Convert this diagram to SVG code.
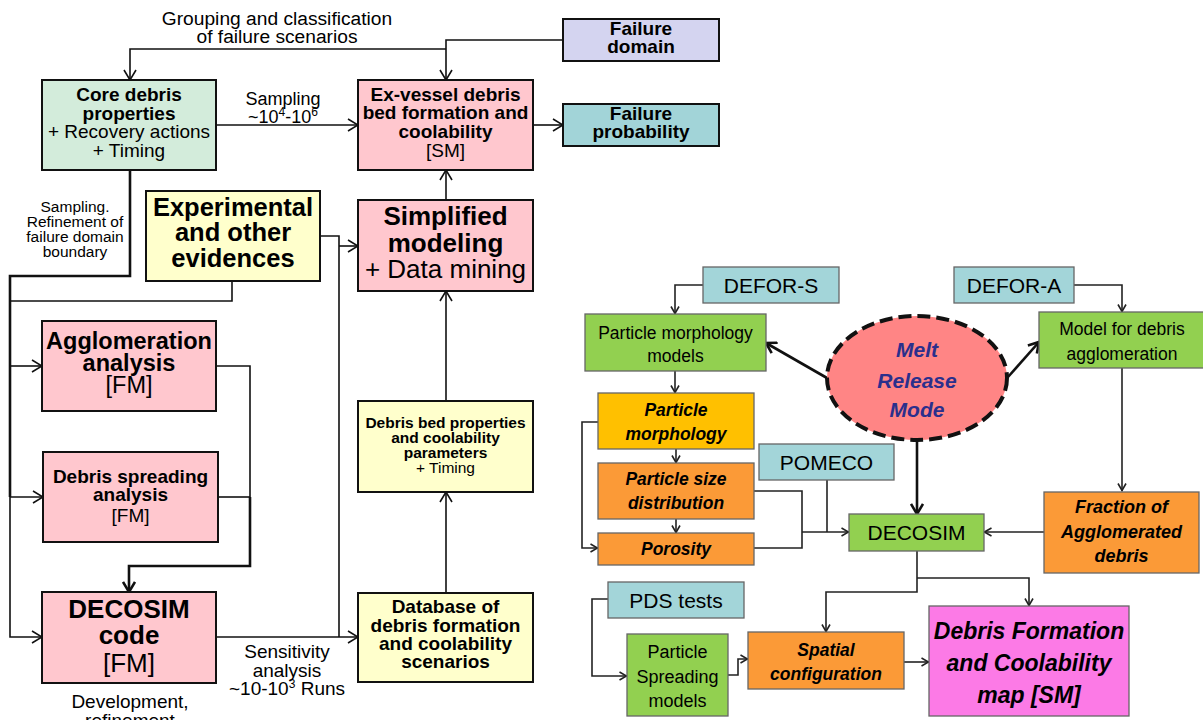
<svg xmlns="http://www.w3.org/2000/svg" width="1203" height="720" viewBox="0 0 1203 720">
  <style>
    text { font-family: "Liberation Sans", Arial, sans-serif; fill: #000; }
    .c { text-anchor: middle; }
    .b { font-weight: bold; }
    .bi { font-weight: bold; font-style: italic; }
    .box { stroke: #111; stroke-width: 2; }
    .rbox { stroke: #666; stroke-width: 1.3; }
    .ln { fill: none; stroke: #111; stroke-width: 1.6; }
    .thk { fill: none; stroke: #111; stroke-width: 2.6; }
    .rl { fill: none; stroke: #222; stroke-width: 1.6; }
    .rthk { fill: none; stroke: #111; stroke-width: 2.6; }
    .pink { fill: #ffc7ce; }
    .yel { fill: #ffffcc; }
    .grn { fill: #92d050; }
    .tea { fill: #a3d5d9; }
    .org { fill: #fb9a37; }
  </style>
  <defs>
    <marker id="av" viewBox="0 0 12 14" refX="11" refY="7" markerWidth="12" markerHeight="14" orient="auto" markerUnits="userSpaceOnUse">
      <path d="M1,1 L11,7 L1,13" fill="none" stroke="#111" stroke-width="1.6"/>
    </marker>
    <marker id="sv" viewBox="0 0 9 10" refX="8.5" refY="5" markerWidth="9" markerHeight="10" orient="auto" markerUnits="userSpaceOnUse">
      <path d="M1,1 L8,5 L1,9" fill="none" stroke="#222" stroke-width="1.6"/>
    </marker>
    <marker id="tv" viewBox="0 0 12 14" refX="11" refY="7" markerWidth="12" markerHeight="14" orient="auto" markerUnits="userSpaceOnUse">
      <path d="M1,1 L11,7 L1,13" fill="none" stroke="#111" stroke-width="2.6"/>
    </marker>
  </defs>

  <rect width="1203" height="720" fill="#fff"/>

  <!-- connectors -->
  <g id="connectors">
    <!-- left flowchart -->
    <path class="ln" d="M446,49 H130 V80" marker-end="url(#av)"/>
    <path class="ln" d="M563,40 H446 V80" marker-end="url(#av)"/>
    <path class="ln" d="M216,125 H358" marker-end="url(#av)"/>
    <path class="ln" d="M533,125 H563" marker-end="url(#av)"/>
    <path class="ln" d="M446,200 V170" marker-end="url(#av)"/>
    <path class="ln" d="M446,401 V291" marker-end="url(#av)"/>
    <path class="ln" d="M446,593 V492" marker-end="url(#av)"/>
    <path class="ln" d="M320,236 H339 V637"/>
    <path class="ln" d="M339,246 H358" marker-end="url(#av)"/>
    <path class="ln" d="M216,637 H358" marker-end="url(#av)"/>
    <path class="thk" d="M130,170 V276 H10 V497"/>
    <path class="ln" d="M232,281 V301 H10"/>
    <path class="ln" d="M10,366 H42" marker-end="url(#av)"/>
    <path class="ln" d="M10,497 H43" marker-end="url(#av)"/>
    <path class="ln" d="M10,497 V637 H42" marker-end="url(#av)"/>
    <path class="ln" d="M216,366 H250 V497"/>
    <path class="ln" d="M218,497 H250"/>
    <path class="thk" d="M250,497 V566 H129 V592" marker-end="url(#tv)"/>

    <!-- right flowchart -->
    <path class="rl" d="M703,285 H675 V314" marker-end="url(#sv)"/>
    <path class="rl" d="M675,371 V393" marker-end="url(#sv)"/>
    <path class="rl" d="M676,449 V463" marker-end="url(#sv)"/>
    <path class="rl" d="M676,519 V533" marker-end="url(#sv)"/>
    <path class="rl" d="M598,422 H582 V548 H598" marker-end="url(#sv)"/>
    <path class="rl" d="M754,491 H802 V548 H754"/>
    <path class="rl" d="M827,480 V532"/>
    <path class="rl" d="M802,532 H849" marker-end="url(#sv)"/>
    <path class="rl" d="M1074,285 H1122 V312" marker-end="url(#sv)"/>
    <path class="rl" d="M1122,368 V491" marker-end="url(#sv)"/>
    <path class="rl" d="M1044,532 H984" marker-end="url(#sv)"/>
    <path class="rthk" d="M917,440 V514" marker-end="url(#tv)"/>
    <path class="rthk" d="M827,378 L766,343" marker-end="url(#tv)"/>
    <path class="rthk" d="M1008,377 L1039,342" marker-end="url(#tv)"/>
    <path class="rl" d="M917,551 V592 H826 V632" marker-end="url(#sv)"/>
    <path class="rl" d="M917,578 H1029 V606" marker-end="url(#sv)"/>
    <path class="rl" d="M608,599 H592 V676 H627" marker-end="url(#sv)"/>
    <path class="rl" d="M728,675 H738 V659 H748" marker-end="url(#sv)"/>
    <path class="rl" d="M904,662 H929" marker-end="url(#sv)"/>
  </g>

  <!-- connector labels -->
  <g id="labels">
    <text class="c" x="277" y="25" font-size="19.2">Grouping and classification</text>
    <text class="c" x="277" y="43" font-size="19.2">of failure scenarios</text>
    <text class="c" x="283" y="105" font-size="18">Sampling</text>
    <text class="c" x="283" y="123" font-size="18">~10<tspan dy="-7" font-size="12">4</tspan><tspan dy="7">-10</tspan><tspan dy="-7" font-size="12">6</tspan></text>
    <text class="c" x="75" y="212" font-size="15.5">Sampling.</text>
    <text class="c" x="75" y="227" font-size="15.5">Refinement of</text>
    <text class="c" x="75" y="242" font-size="15.5">failure domain</text>
    <text class="c" x="75" y="257" font-size="15.5">boundary</text>
    <text class="c" x="287" y="658" font-size="19">Sensitivity</text>
    <text class="c" x="287" y="677" font-size="19">analysis</text>
    <text class="c" x="287" y="695" font-size="19">~10-10<tspan dy="-7" font-size="12">3</tspan><tspan dy="7"> Runs</tspan></text>
    <text class="c" x="130" y="708" font-size="19">Development,</text>
    <text class="c" x="130" y="727" font-size="19">refinement</text>
  </g>

  <!-- left flowchart nodes -->
  <g id="core-debris">
    <rect class="box" x="42" y="80" width="174" height="90" fill="#d3ecdb"/>
    <text class="c b" x="129" y="101" font-size="19">Core debris</text>
    <text class="c b" x="129" y="120" font-size="19">properties</text>
    <text class="c" x="129" y="138" font-size="19">+ Recovery actions</text>
    <text class="c" x="129" y="157" font-size="19">+ Timing</text>
  </g>
  <g id="ex-vessel">
    <rect class="box pink" x="358" y="80" width="175" height="90"/>
    <text class="c b" x="445.5" y="101" font-size="19">Ex-vessel debris</text>
    <text class="c b" x="445.5" y="119" font-size="19">bed formation and</text>
    <text class="c b" x="445.5" y="138" font-size="19">coolability</text>
    <text class="c" x="445.5" y="157" font-size="19">[SM]</text>
  </g>
  <g id="failure-domain">
    <rect class="box" x="563" y="19" width="156" height="42" fill="#d4d4f0"/>
    <text class="c b" x="641" y="35" font-size="19">Failure</text>
    <text class="c b" x="641" y="53" font-size="19">domain</text>
  </g>
  <g id="failure-probability">
    <rect class="box" x="563" y="104" width="156" height="42" fill="#a2d4d8"/>
    <text class="c b" x="641" y="120" font-size="19">Failure</text>
    <text class="c b" x="641" y="138" font-size="19">probability</text>
  </g>
  <g id="experimental">
    <rect class="box yel" x="146" y="191" width="174" height="90"/>
    <text class="c b" x="233" y="216" font-size="25.5">Experimental</text>
    <text class="c b" x="233" y="241" font-size="25.5">and other</text>
    <text class="c b" x="233" y="267" font-size="25.5">evidences</text>
  </g>
  <g id="simplified-modeling">
    <rect class="box pink" x="358" y="200" width="175" height="91"/>
    <text class="c b" x="445.5" y="225" font-size="26">Simplified</text>
    <text class="c b" x="445.5" y="252" font-size="26">modeling</text>
    <text class="c" x="445.5" y="278" font-size="26">+ Data mining</text>
  </g>
  <g id="agglomeration">
    <rect class="box pink" x="42" y="321" width="174" height="90"/>
    <text class="c b" x="129" y="349" font-size="23.5">Agglomeration</text>
    <text class="c b" x="129" y="371" font-size="23.5">analysis</text>
    <text class="c" x="129" y="393" font-size="23.5">[FM]</text>
  </g>
  <g id="debris-spreading">
    <rect class="box pink" x="43" y="452" width="175" height="90"/>
    <text class="c b" x="130.5" y="483" font-size="19">Debris spreading</text>
    <text class="c b" x="130.5" y="501" font-size="19">analysis</text>
    <text class="c" x="130.5" y="522" font-size="19">[FM]</text>
  </g>
  <g id="decosim-code">
    <rect class="box pink" x="42" y="592" width="174" height="91"/>
    <text class="c b" x="129" y="618" font-size="26">DECOSIM</text>
    <text class="c b" x="129" y="644" font-size="26">code</text>
    <text class="c" x="129" y="672" font-size="26">[FM]</text>
  </g>
  <g id="bed-properties">
    <rect class="box yel" x="358" y="401" width="175" height="91"/>
    <text class="c b" x="445.5" y="428" font-size="15.5">Debris bed properties</text>
    <text class="c b" x="445.5" y="443" font-size="15.5">and coolability</text>
    <text class="c b" x="445.5" y="458" font-size="15.5">parameters</text>
    <text class="c" x="445.5" y="473" font-size="15.5">+ Timing</text>
  </g>
  <g id="database">
    <rect class="box yel" x="358" y="593" width="175" height="89"/>
    <text class="c b" x="445.5" y="613" font-size="19">Database of</text>
    <text class="c b" x="445.5" y="632" font-size="19">debris formation</text>
    <text class="c b" x="445.5" y="650" font-size="19">and coolability</text>
    <text class="c b" x="445.5" y="668" font-size="19">scenarios</text>
  </g>

  <!-- right flowchart nodes -->
  <g id="defor-s">
    <rect class="rbox tea" x="703" y="267" width="136" height="36"/>
    <text class="c" x="771" y="293" font-size="21">DEFOR-S</text>
  </g>
  <g id="defor-a">
    <rect class="rbox tea" x="954" y="267" width="120" height="36"/>
    <text class="c" x="1014" y="293" font-size="21">DEFOR-A</text>
  </g>
  <g id="morphology-models">
    <rect class="rbox grn" x="585" y="314" width="181" height="57"/>
    <text class="c" x="675.5" y="339" font-size="17.5">Particle morphology</text>
    <text class="c" x="675.5" y="362" font-size="17.5">models</text>
  </g>
  <g id="agglomeration-model">
    <rect class="rbox grn" x="1039" y="312" width="166" height="56"/>
    <text class="c" x="1122" y="335" font-size="17.5">Model for debris</text>
    <text class="c" x="1122" y="360" font-size="17.5">agglomeration</text>
  </g>
  <g id="melt-release-mode">
    <ellipse cx="917" cy="378" rx="90" ry="62" fill="#ff8585" stroke="#111" stroke-width="4" stroke-dasharray="13 6"/>
    <text class="c bi" x="917" y="357" font-size="21" style="fill:#2b2f8c">Melt</text>
    <text class="c bi" x="917" y="388" font-size="21" style="fill:#2b2f8c">Release</text>
    <text class="c bi" x="917" y="417" font-size="21" style="fill:#2b2f8c">Mode</text>
  </g>
  <g id="particle-morphology">
    <rect class="rbox" x="598" y="393" width="156" height="56" fill="#ffc000"/>
    <text class="c bi" x="676" y="416" font-size="17.5">Particle</text>
    <text class="c bi" x="676" y="440" font-size="17.5">morphology</text>
  </g>
  <g id="size-distribution">
    <rect class="rbox org" x="598" y="463" width="156" height="56"/>
    <text class="c bi" x="676" y="485" font-size="17.5">Particle size</text>
    <text class="c bi" x="676" y="509" font-size="17.5">distribution</text>
  </g>
  <g id="porosity">
    <rect class="rbox org" x="598" y="533" width="156" height="32"/>
    <text class="c bi" x="676" y="555" font-size="17.5">Porosity</text>
  </g>
  <g id="pomeco">
    <rect class="rbox tea" x="759" y="444" width="135" height="36"/>
    <text class="c" x="826.5" y="470" font-size="21">POMECO</text>
  </g>
  <g id="decosim">
    <rect class="rbox grn" x="849" y="514" width="135" height="37"/>
    <text class="c" x="916.5" y="540" font-size="21">DECOSIM</text>
  </g>
  <g id="agglomerated-fraction">
    <rect class="rbox org" x="1044" y="492" width="155" height="81"/>
    <text class="c bi" x="1121.5" y="513" font-size="18">Fraction of</text>
    <text class="c bi" x="1121.5" y="538" font-size="18">Agglomerated</text>
    <text class="c bi" x="1121.5" y="562" font-size="18">debris</text>
  </g>
  <g id="pds-tests">
    <rect class="rbox tea" x="608" y="582" width="136" height="36"/>
    <text class="c" x="676" y="608" font-size="21">PDS tests</text>
  </g>
  <g id="spreading-models">
    <rect class="rbox grn" x="627" y="634" width="101" height="82"/>
    <text class="c" x="677.5" y="658" font-size="18">Particle</text>
    <text class="c" x="677.5" y="683" font-size="18">Spreading</text>
    <text class="c" x="677.5" y="707" font-size="18">models</text>
  </g>
  <g id="spatial-configuration">
    <rect class="rbox org" x="748" y="632" width="156" height="57"/>
    <text class="c bi" x="826" y="656" font-size="17.5">Spatial</text>
    <text class="c bi" x="826" y="680" font-size="17.5">configuration</text>
  </g>
  <g id="coolability-map">
    <rect class="rbox" x="929" y="606" width="200" height="110" fill="#fc7ae6"/>
    <text class="c bi" x="1029" y="639" font-size="23">Debris Formation</text>
    <text class="c bi" x="1029" y="671" font-size="23">and Coolability</text>
    <text class="c bi" x="1029" y="703" font-size="23">map [SM]</text>
  </g>
</svg>
